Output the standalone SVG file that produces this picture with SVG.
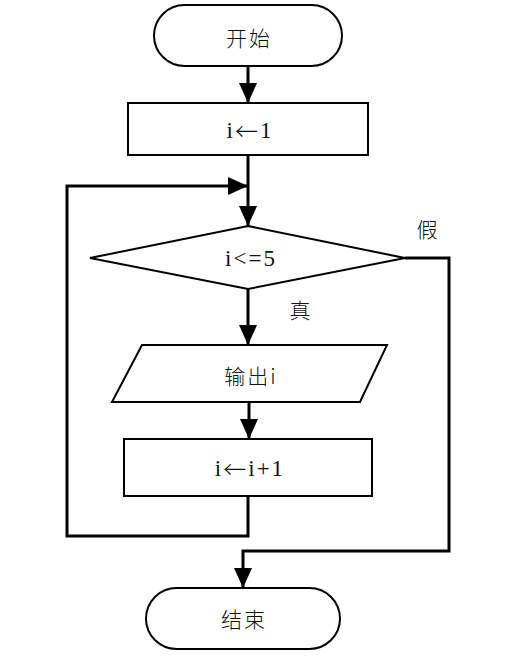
<svg xmlns="http://www.w3.org/2000/svg" width="517" height="666" viewBox="0 0 517 666">
<style>
.shape{fill:#fff;stroke:#000;stroke-width:2}
.conn{fill:none;stroke:#000;stroke-width:3}
.t{font-family:"Liberation Serif","Noto Sans CJK SC",serif;font-size:23px;letter-spacing:2px;fill:#111;text-anchor:middle;dominant-baseline:central}
.ar{font-family:"Noto Sans CJK SC",sans-serif;font-weight:300}
.cn{font-family:"Noto Sans CJK SC",sans-serif;font-size:21px;font-weight:300;letter-spacing:2px;fill:#111;text-anchor:middle;dominant-baseline:central}
</style>
<defs>
<marker id="arr" markerUnits="userSpaceOnUse" markerWidth="20" markerHeight="18" refX="20" refY="9" orient="auto">
<path d="M0,0 L20,9 L0,18 Z" fill="#000"/>
</marker>
</defs>
<rect width="517" height="666" fill="#fff"/>
<g id="connectors">
<path class="conn" d="M248,66 V103" marker-end="url(#arr)"/>
<path class="conn" d="M248,155 V226" marker-end="url(#arr)"/>
<path class="conn" d="M248,289 V345" marker-end="url(#arr)"/>
<path class="conn" d="M249,402 V439" marker-end="url(#arr)"/>
<path class="conn" d="M248,496 V536 H67 V186 H248" marker-end="url(#arr)"/>
<path class="conn" d="M405,258 H449 V551 H243 V588" marker-end="url(#arr)"/>
</g>
<g id="start">
<rect class="shape" x="154" y="5" width="188" height="61" rx="30.5"/>
<text class="cn" x="249" y="37">开始</text>
</g>
<g id="init">
<rect class="shape" x="128" y="103" width="240" height="52"/>
<text class="t" x="250" y="130">i<tspan class="ar">←</tspan>1</text>
</g>
<g id="cond">
<polygon class="shape" points="248,226 405,258 248,289 90,258"/>
<text class="t" x="251" y="258">i&lt;=5</text>
</g>
<g id="output">
<polygon class="shape" points="142,345 387,345 360,402 112,402"/>
<text class="cn" x="251" y="375">输出i</text>
</g>
<g id="incr">
<rect class="shape" x="124" y="439" width="248" height="57"/>
<text class="t" x="250" y="468">i<tspan class="ar">←</tspan>i+1</text>
</g>
<g id="end">
<rect class="shape" x="146" y="588" width="194" height="61" rx="30.5"/>
<text class="cn" x="244" y="618">结束</text>
</g>
<g id="labels">
<text class="cn" x="428" y="228">假</text>
<text class="cn" x="301" y="309">真</text>
</g>
</svg>
